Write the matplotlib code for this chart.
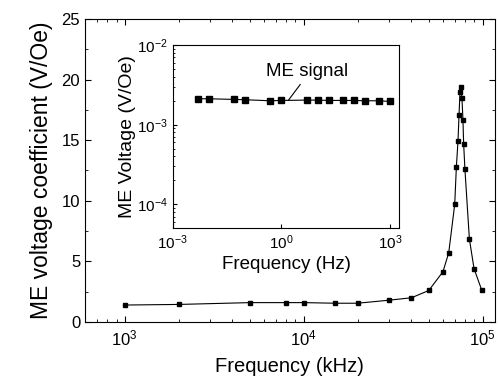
import matplotlib
matplotlib.use("Agg")
import matplotlib.pyplot as plt
from matplotlib.ticker import MultipleLocator, FixedLocator

plt.rcParams['font.family'] = ['Liberation Sans', 'DejaVu Sans']

# Datos de la curva principal (kHz, V/Oe)
freq_khz = [1000, 2000, 5000, 8000, 10000, 15000, 20000, 30000, 40000, 50000,
            60000, 64600, 69800, 71300, 72800, 73800, 74700, 75400, 76600,
            77600, 78300, 79600, 84300, 89500, 99000]
me_coef = [1.4, 1.45, 1.6, 1.6, 1.6, 1.55, 1.55, 1.8, 2.0, 2.6,
           4.15, 5.7, 9.7, 12.8, 14.9, 17.1, 19.0, 19.4, 18.5,
           16.7, 14.7, 12.6, 6.85, 4.4, 2.6]

# Datos del recuadro (Hz, V/Oe)
freq_hz = [0.005, 0.01, 0.05, 0.1, 0.5, 1, 5, 10, 20, 50, 100, 200, 500, 1000]
me_volt = [2.12e-3, 2.12e-3, 2.08e-3, 2.06e-3, 2.0e-3, 2.02e-3, 2.04e-3,
           2.04e-3, 2.02e-3, 2.02e-3, 2.02e-3, 2.0e-3, 2.0e-3, 1.96e-3]

fig = plt.figure(figsize=(4.98, 3.89), dpi=100)

ax = fig.add_axes([0.1707, 0.1722, 0.823, 0.779])
ax.plot(freq_khz, me_coef, color='black', marker='s', markersize=3.5, linewidth=0.8)
ax.set_xscale('log')
ax.set_xlim(600, 1.17e5)
ax.set_ylim(0, 25)
ax.yaxis.set_major_locator(MultipleLocator(5))
ax.yaxis.set_minor_locator(MultipleLocator(2.5))
ax.tick_params(which='both', direction='in', top=True, right=True, labelsize=12)
ax.tick_params(which='major', length=4)
ax.tick_params(which='minor', length=2)
ax.tick_params(axis='x', pad=5)
ax.set_xlabel("Frequency (kHz)", fontsize=14.5, labelpad=6)
ax.set_ylabel("ME voltage coefficient (V/Oe)", fontsize=16.5, labelpad=6)

# Recuadro
axi = fig.add_axes([0.3468, 0.413, 0.455, 0.471])
axi.plot(freq_hz, me_volt, color='black', marker='s', markersize=5, linewidth=0.8)
axi.set_xscale('log')
axi.set_yscale('log')
axi.set_xlim(1e-3, 1.8e3)
axi.set_ylim(5e-5, 1e-2)
axi.xaxis.set_major_locator(FixedLocator([1e-3, 1, 1e3]))
axi.tick_params(which='both', direction='in', labelsize=11)
axi.tick_params(which='major', length=3)
axi.tick_params(which='minor', length=1.5)
axi.set_xlabel("Frequency (Hz)", fontsize=13.5, labelpad=3)
axi.set_ylabel("ME Voltage (V/Oe)", fontsize=14, labelpad=1)
axi.annotate("ME signal", xy=(1.55, 2.02e-3), xytext=(5.2, 4.6e-3),
             fontsize=13.5, ha='center', va='center',
             arrowprops=dict(arrowstyle='-', color='black', lw=0.8,
                             shrinkA=1, shrinkB=0, relpos=(0.45, 0)))

fig.savefig("out.png", dpi=100)
